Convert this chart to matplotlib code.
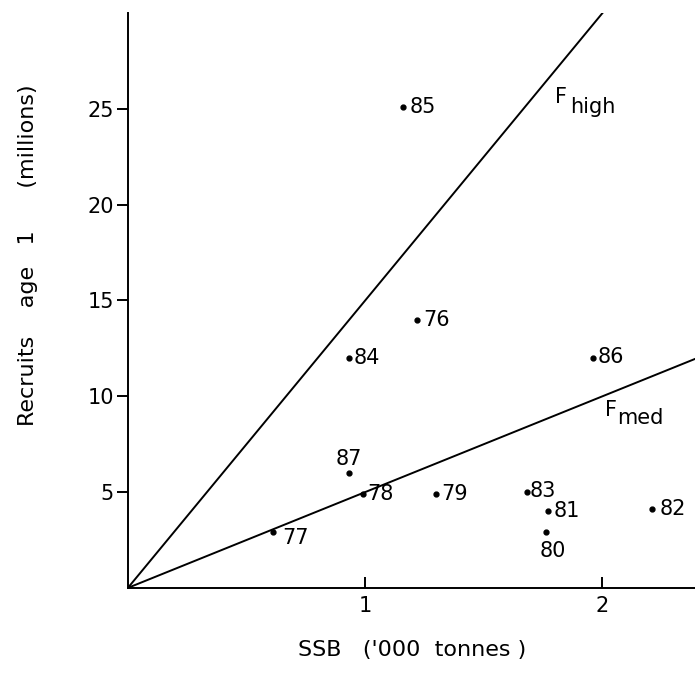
import numpy as np
import matplotlib.pyplot as plt

# SSB ('000 t) and recruits at age 1 (millions) by year class
years = ['76', '77', '78', '79', '80', '81', '82', '83', '84', '85', '86', '87']
ssb = [1.22, 0.61, 0.99, 1.30, 1.76, 1.77, 2.21, 1.68, 0.93, 1.16, 1.96, 0.93]
recruits = [14.0, 2.9, 4.9, 4.9, 2.9, 4.0, 4.1, 5.0, 12.0, 25.1, 12.0, 6.0]
# label offsets (pixels) relative to each point
lab_dx = [6, 10, 4, 5, 7, 6, 7, 3, 5, 6, 5, 0]
lab_dy = [0, -6, 0, 0, -19, 0, 0, 1, 0, 0, 1, 14]
lab_ha = ['left', 'left', 'left', 'left', 'center', 'left', 'left', 'left', 'left', 'left', 'left', 'center']

# replacement lines (slope = recruits per unit SSB)
f_high = 15.0
f_med = 5.0

plt.rcParams['font.family'] = 'DejaVu Sans'

fig = plt.figure(figsize=(6.95, 6.88), dpi=100)
ax = fig.add_axes([0.184, 0.1455, 0.816, 0.8355])

ax.plot([0, 30 / f_high], [0, 30], color='black', lw=1.4)
xm = np.array([0, 2.39])
ax.plot(xm, f_med * xm, color='black', lw=1.4)

ax.plot(ssb, recruits, 'o', color='black', markersize=3.5)
for i in range(len(years)):
    ax.annotate(years[i], (ssb[i], recruits[i]), xytext=(lab_dx[i], lab_dy[i]),
                textcoords='offset pixels', ha=lab_ha[i], va='center', fontsize=15)

ax.text(1.80, 25.6, 'F', fontsize=15, ha='left', va='center')
ax.text(1.862, 25.1, 'high', fontsize=15, ha='left', va='center')
ax.text(2.012, 9.3, 'F', fontsize=15, ha='left', va='center')
ax.text(2.062, 8.85, 'med', fontsize=15, ha='left', va='center')

ax.set_xlim(0, 2.39)
ax.set_ylim(0, 30)
ax.spines['top'].set_visible(False)
ax.spines['right'].set_visible(False)
ax.spines['left'].set_linewidth(1.4)
ax.spines['bottom'].set_linewidth(1.4)
ax.set_xticks([1, 2])
ax.set_yticks([5, 10, 15, 20, 25])
ax.tick_params(axis='x', direction='in', length=8, width=1.4, labelsize=15, pad=6)
ax.tick_params(axis='y', direction='out', length=8, width=1.4, labelsize=15, pad=2)

fig.text(0.593, 0.055, "SSB   ('000  tonnes )", ha='center', va='center', fontsize=16)
fig.text(0.04, 0.629, "Recruits    age   1      (millions)", ha='center', va='center',
         fontsize=16, rotation=90)

fig.savefig('out.png')
